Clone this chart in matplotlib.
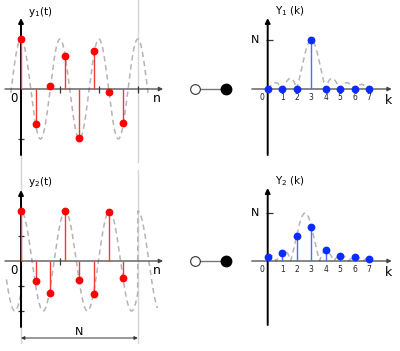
import numpy as np
import matplotlib.pyplot as plt

# samples
N = 8
n = np.arange(N)
y1 = [1.0, -0.70, 0.06, 0.66, -0.97, 0.76, -0.06, -0.67]
y2 = [1.0, -0.40, -0.63, 1.0, -0.38, -0.65, 0.98, -0.33]

k = np.arange(N)
k_labels = ["0", "1", "2", "3", "4", "5", "6", "7"]
Y1 = [0.0, 0.0, 0.0, 1.0, 0.0, 0.0, 0.0, 0.0]
Y2 = [0.09, 0.17, 0.52, 0.71, 0.22, 0.10, 0.08, 0.05]

# underlying frequencies (cycles per sample)
f1 = 3 / 8
f2 = 0.33
peak1 = 3.0
peak2 = 2.58

W, H = 400, 351
fig = plt.figure(figsize=(4, 3.51), dpi=100)

RED = "#ff0000"
RED_STEM = "#f03a3a"
BLUE = "#0a2dff"
BLUE_STEM = "#4a6cff"
DASH = "#b4b4b4"
GRID = "#d6d6d6"


def panel(x, y, w, h):
	return fig.add_axes([x / W, 1 - (y + h) / H, w / W, h / H])


def arrow(ax, p0, p1, lw=1.0, color="black", style="-|>", ms=7):
	ax.annotate("", xy=p1, xytext=p0,
				arrowprops=dict(arrowstyle=style, color=color, lw=lw,
								mutation_scale=ms, shrinkA=0, shrinkB=0))


def time_panel(top, h, yax, t_curve, y_curve, y, yticks, label, full_zero_line):
	ax = panel(0, top, 170, h)
	sx, sy = 14.6, 50.0
	ax.set_xlim(-21 / sx, (170 - 21) / sx)
	ax.set_ylim((yax - h) / sy, yax / sy)
	ax.set_axis_off()
	ylo, yhi = ax.get_ylim()
	ax.plot([N, N], [ylo + 8 / sy, yhi], color=GRID, lw=1, zorder=0)
	if full_zero_line:
		ax.plot([0, 0], [ylo + 8 / sy, yhi], color=GRID, lw=1, zorder=0)
	else:
		ax.plot([0, 0], [ylo, -1.3], color=GRID, lw=1, zorder=0)
	ax.plot(t_curve, y_curve, ls=(0, (3.5, 2.5)), color=DASH, lw=1.1, zorder=1)
	arrow(ax, (-1.1, 0), (9.73, 0), lw=0.9, color="#444444", ms=6)
	arrow(ax, (0, -1.32), (0, 1.42), lw=1.4, color="black", ms=7)
	ax.vlines([8 / 3, 16 / 3, N] if not full_zero_line else [8 / 3], -0.07, 0.07,
			  color="#333333", lw=0.9, zorder=2)
	ax.hlines(yticks, -0.2, 0.2, color="#333333", lw=0.9, zorder=2)
	ax.vlines(n, 0, y, color=RED_STEM, lw=1.0, zorder=3)
	ax.plot(n, y, "o", ms=4.6, color=RED, zorder=4)
	ax.text(0.45, (yax - 12) / sy, label, fontsize=7.5, va="center", ha="left")
	ax.text(-0.48, -0.2, "0", fontsize=8.5, ha="center", va="center")
	ax.text(9.3, -0.2, "n", fontsize=9, ha="center", va="center")
	return ax


def freq_panel(top, h, yax, sy, k_curve, v_curve, Y, label):
	ax = panel(240, top, 160, h)
	sx = 14.5
	ax.set_xlim(-27.7 / sx, (160 - 27.7) / sx)
	ax.set_ylim((yax - h) / sy, yax / sy)
	ax.set_axis_off()
	ax.plot(k_curve, v_curve, ls=(0, (3.5, 2.5)), color=DASH, lw=1.1, zorder=1)
	arrow(ax, (-1.1, 0), (8.55, 0), lw=0.9, color="#444444", ms=6)
	arrow(ax, (0, (yax - 155) / sy), (0, (yax - 18) / sy), lw=1.4, color="black", ms=7)
	ax.hlines([1.0], -0.12, 0.35, color="#333333", lw=0.9, zorder=2)
	ax.vlines(k, 0, Y, color=BLUE_STEM, lw=1.0, zorder=3)
	ax.plot(k, Y, "o", ms=4.6, color=BLUE, zorder=4)
	for kk, lab in zip(k, k_labels):
		xx = -0.4 if kk == 0 else kk
		ax.text(xx, -9 / sy, lab, fontsize=5.5, ha="center", va="center", color="#222222")
	ax.text(8.3, -11 / sy, "k", fontsize=9, ha="center", va="center")
	ax.text(-0.88, 1.0, "N", fontsize=8, ha="center", va="center")
	ax.text(0.5, (yax - 11) / sy, label, fontsize=7.5, ha="left", va="center")
	return ax


def link(top, h, yax):
	ax = panel(170, top, 70, h)
	s = 31.0
	ax.set_xlim(-25 / s, 45 / s)
	ax.set_ylim((yax - h) / s, yax / s)
	ax.set_axis_off()
	ax.plot([0, 1], [0, 0], color="#777777", lw=1, zorder=1)
	ax.plot([0], [0], "o", ms=7, mfc="white", mec="#333333", mew=0.8, zorder=2)
	ax.plot([1], [0], "o", ms=7.5, color="black", zorder=2)


# continuous curves behind the samples
t1 = np.linspace(-0.7, 8.7, 600)
c1 = np.cos(2 * np.pi * f1 * t1)
t2 = np.linspace(-1.0, 9.35, 800)
c2 = np.cos(2 * np.pi * f2 * np.mod(t2, N))
kk = np.linspace(0, 7.25, 600)
d1 = np.abs(np.sinc(kk - peak1))
d2 = np.abs(np.sinc(kk - peak2))

# top row
time_panel(0, 170, 89, t1, c1, y1, [1.0, -1.0], "y$_1$(t)", False)
link(0, 170, 89)
freq_panel(0, 170, 89, 49.0, kk, d1, Y1, "Y$_1$ (k)")

# bottom row
ax = time_panel(170, 181, 91, t2, c2, y2, [1.0, 0.5, -0.5, -1.0], "y$_2$(t)", True)
arrow(ax, (0, -1.54), (N, -1.54), lw=0.7, color="#333333", style="<|-|>", ms=5)
ax.text(N / 2, -1.42, "N", fontsize=8, ha="center", va="center")
link(170, 181, 91)
freq_panel(170, 181, 91, 48.0, kk, d2, Y2, "Y$_2$ (k)")

plt.savefig("out.png", dpi=100)
plt.close("all")
